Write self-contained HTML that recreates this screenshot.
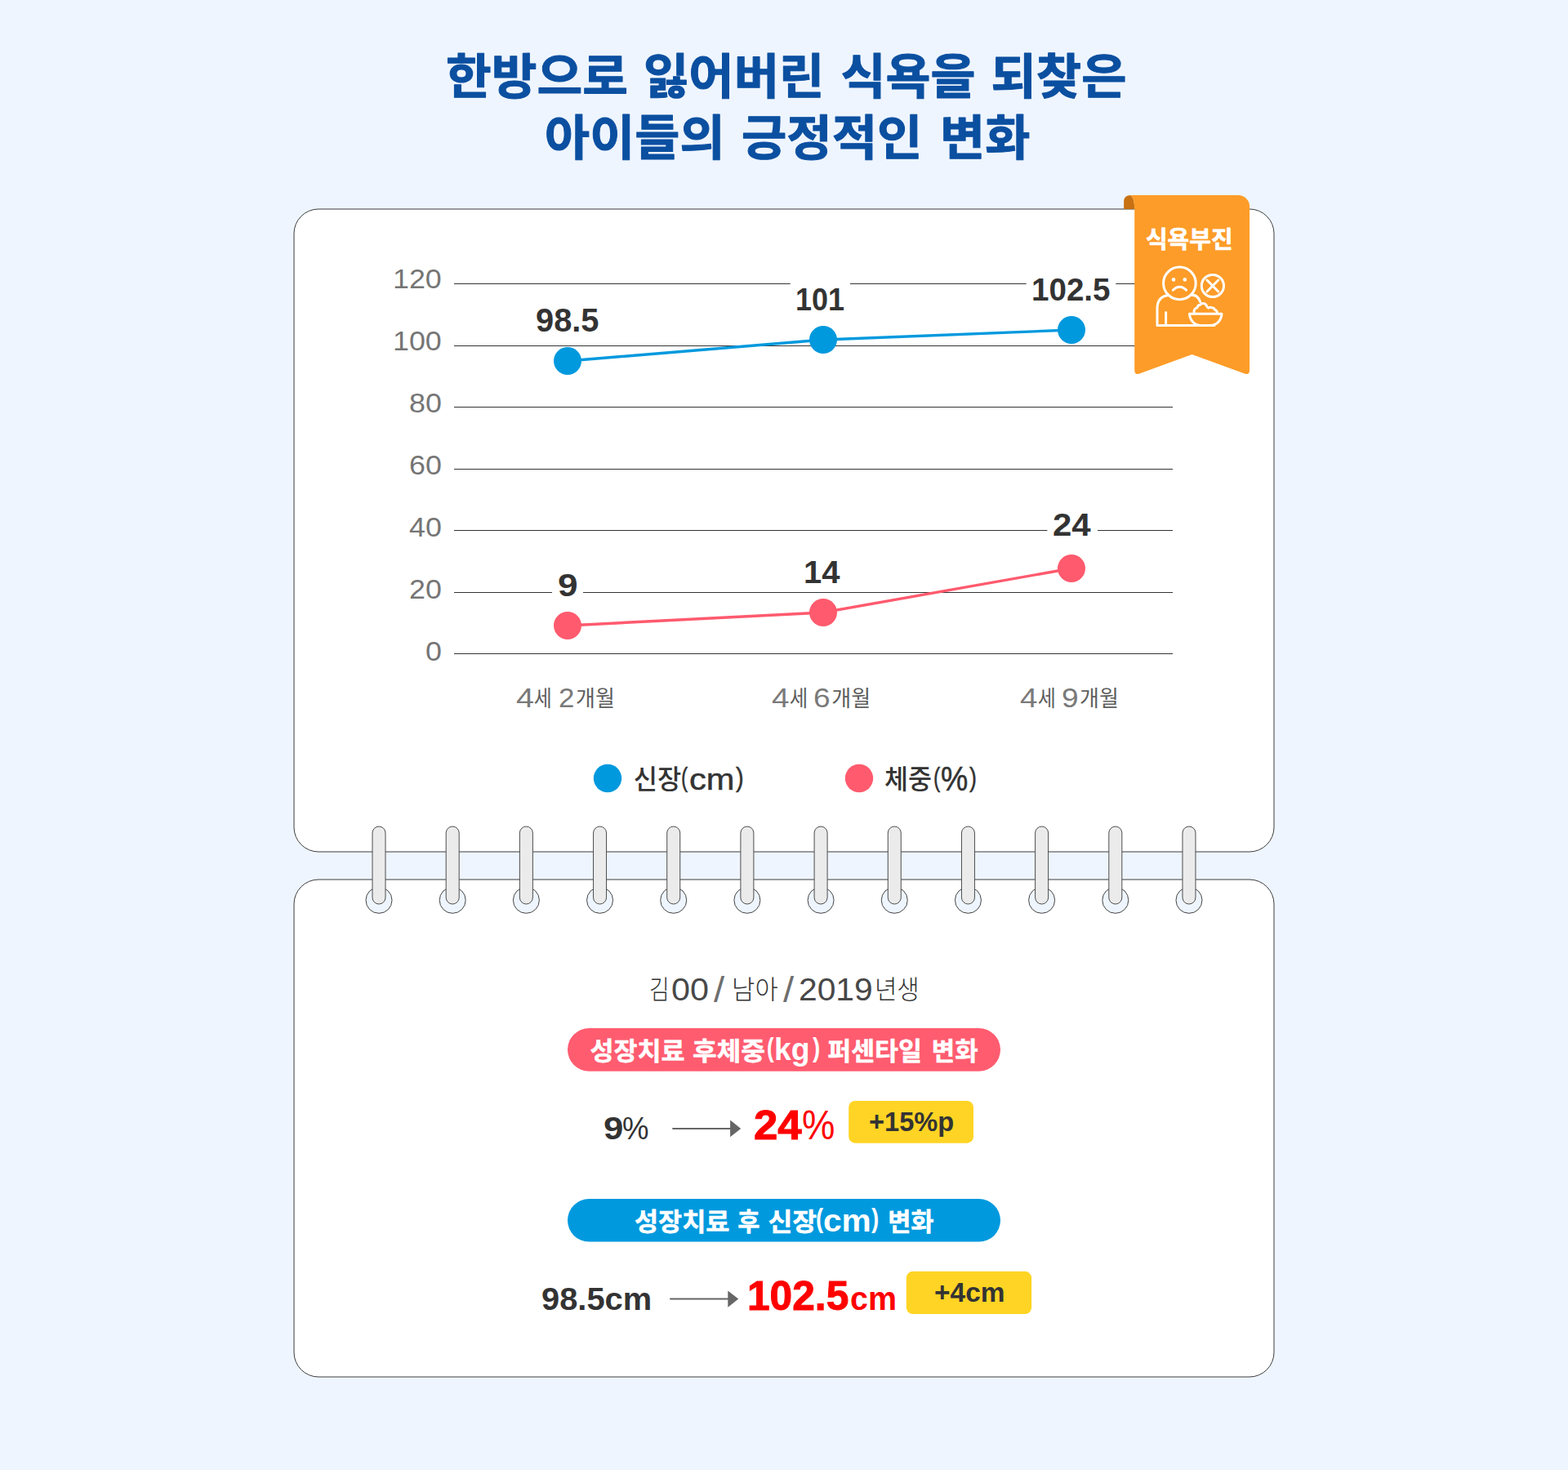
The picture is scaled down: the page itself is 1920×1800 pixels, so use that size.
<!DOCTYPE html>
<html lang="ko"><head><meta charset="utf-8"><title>한방으로 잃어버린 식욕을 되찾은 아이들의 긍정적인 변화</title>
<style>html,body{margin:0;padding:0}
body{width:1920px;height:1800px;background:#eef5ff;position:relative;overflow:hidden;font-family:"Liberation Sans",sans-serif}
svg.l{position:absolute;left:0;top:0}
svg.l text{font-family:"Liberation Sans","Noto Sans CJK KR",sans-serif}
.t{position:absolute;white-space:nowrap;transform-origin:0 0;font-kerning:none;letter-spacing:0;display:block}</style></head>
<body>
<svg class="l" width="1920" height="1800" viewBox="0 0 1920 1800">
<rect x="360" y="256" width="1200" height="787" rx="30" fill="#fff" stroke="#3c3c3c" stroke-width="1"/>
<rect x="360" y="1077" width="1200" height="609" rx="30" fill="#fff" stroke="#3c3c3c" stroke-width="1"/>
<rect x="556" y="347" width="880" height="1" fill="#333"/>
<rect x="556" y="423" width="880" height="1" fill="#333"/>
<rect x="556" y="498" width="880" height="1" fill="#333"/>
<rect x="556" y="574" width="880" height="1" fill="#333"/>
<rect x="556" y="649" width="880" height="1" fill="#333"/>
<rect x="556" y="725" width="880" height="1" fill="#333"/>
<rect x="556" y="800" width="880" height="1" fill="#333"/>
<rect x="649.0" y="369.1" width="91.6" height="46.2" fill="#fff"/>
<rect x="967.7" y="343.3" width="73.3" height="45.7" fill="#fff"/>
<rect x="1256.7" y="331.3" width="109.6" height="46.0" fill="#fff"/>
<rect x="676.0" y="693.3" width="38.0" height="46.0" fill="#fff"/>
<rect x="978.7" y="677.7" width="58.3" height="45.3" fill="#fff"/>
<rect x="1282.4" y="619.3" width="61.6" height="45.7" fill="#fff"/>
<polyline points="695,442 1008,416 1312,404" fill="none" stroke="#0099de" stroke-width="3.4"/>
<polyline points="695,766 1008,750 1312,696" fill="none" stroke="#ff5a6e" stroke-width="3.4"/>
<circle cx="695" cy="442" r="17" fill="#0099de"/>
<circle cx="1008" cy="416" r="17" fill="#0099de"/>
<circle cx="1312" cy="404" r="17" fill="#0099de"/>
<circle cx="695" cy="766" r="17" fill="#ff5a6e"/>
<circle cx="1008" cy="750" r="17" fill="#ff5a6e"/>
<circle cx="1312" cy="696" r="17" fill="#ff5a6e"/>
<circle cx="744" cy="953" r="17.2" fill="#0099de"/>
<circle cx="1052" cy="953" r="17.2" fill="#ff5a6e"/>
<path d="M1376.1,256 V247 Q1376.1,239.6 1383.8,239 Q1389.2,241 1389.2,256 Z" fill="#c77112"/>
<path d="M1389.2,256 Q1389.2,241 1383.8,239 H1516 A14,14 0 0 1 1530.1,253 V453.3 Q1530.1,459.6 1524,457.4 L1459.6,434 L1395.3,457.4 Q1389.2,459.6 1389.2,453.3 Z" fill="#fd9c28"/>
<g fill="none" stroke="#fff" stroke-width="3" stroke-linecap="round" stroke-linejoin="round"><circle cx="1444.4" cy="346.9" r="19.8"/><circle cx="1484.9" cy="350" r="13.6"/><path d="M1478,343 L1491.8,357 M1491.8,343 L1478,357"/><path d="M1436.3,355.2 Q1444.4,347.3 1452.6,355.2"/><path d="M1430.2,361.6 C1421,363 1417,369 1417,378 V398.6 H1487 "/><path d="M1458.8,361.6 C1464,360.5 1467.5,364 1469.6,369.5"/><path d="M1427.6,382.5 V398.6"/><path d="M1456.5,384.3 H1496 C1495.5,392 1490,398.6 1482,398.6 H1470.5 C1462.5,398.6 1457,392 1456.5,384.3 Z"/><path d="M1462.2,383 C1461.6,380.5 1462.6,377.6 1465.8,376.9 C1466.3,374.6 1468,373.2 1469.8,373.2 C1470.5,371.6 1472.2,371.2 1473.8,371.5 C1476,372 1477.3,373.5 1477.6,375 C1478.3,376 1479,376.9 1479.8,377.2 C1481,376.2 1482.6,376.2 1483.8,376.8 C1485.6,376.8 1487,378 1487.4,379.2 C1489,379.8 1490.3,381.2 1490.5,383"/></g>
<circle cx="1437" cy="342.4" r="2.3" fill="#fff"/><circle cx="1450.8" cy="342.4" r="2.3" fill="#fff"/>
<circle cx="464.00" cy="1102.3" r="16" fill="#eef5ff" stroke="#444" stroke-width="1"/>
<circle cx="554.18" cy="1102.3" r="16" fill="#eef5ff" stroke="#444" stroke-width="1"/>
<circle cx="644.36" cy="1102.3" r="16" fill="#eef5ff" stroke="#444" stroke-width="1"/>
<circle cx="734.54" cy="1102.3" r="16" fill="#eef5ff" stroke="#444" stroke-width="1"/>
<circle cx="824.72" cy="1102.3" r="16" fill="#eef5ff" stroke="#444" stroke-width="1"/>
<circle cx="914.90" cy="1102.3" r="16" fill="#eef5ff" stroke="#444" stroke-width="1"/>
<circle cx="1005.08" cy="1102.3" r="16" fill="#eef5ff" stroke="#444" stroke-width="1"/>
<circle cx="1095.26" cy="1102.3" r="16" fill="#eef5ff" stroke="#444" stroke-width="1"/>
<circle cx="1185.44" cy="1102.3" r="16" fill="#eef5ff" stroke="#444" stroke-width="1"/>
<circle cx="1275.62" cy="1102.3" r="16" fill="#eef5ff" stroke="#444" stroke-width="1"/>
<circle cx="1365.80" cy="1102.3" r="16" fill="#eef5ff" stroke="#444" stroke-width="1"/>
<circle cx="1455.98" cy="1102.3" r="16" fill="#eef5ff" stroke="#444" stroke-width="1"/>
<rect x="456.00" y="1012" width="16" height="95" rx="8" fill="#ebebeb" stroke="#4d4d4d" stroke-width="1"/>
<rect x="546.18" y="1012" width="16" height="95" rx="8" fill="#ebebeb" stroke="#4d4d4d" stroke-width="1"/>
<rect x="636.36" y="1012" width="16" height="95" rx="8" fill="#ebebeb" stroke="#4d4d4d" stroke-width="1"/>
<rect x="726.54" y="1012" width="16" height="95" rx="8" fill="#ebebeb" stroke="#4d4d4d" stroke-width="1"/>
<rect x="816.72" y="1012" width="16" height="95" rx="8" fill="#ebebeb" stroke="#4d4d4d" stroke-width="1"/>
<rect x="906.90" y="1012" width="16" height="95" rx="8" fill="#ebebeb" stroke="#4d4d4d" stroke-width="1"/>
<rect x="997.08" y="1012" width="16" height="95" rx="8" fill="#ebebeb" stroke="#4d4d4d" stroke-width="1"/>
<rect x="1087.26" y="1012" width="16" height="95" rx="8" fill="#ebebeb" stroke="#4d4d4d" stroke-width="1"/>
<rect x="1177.44" y="1012" width="16" height="95" rx="8" fill="#ebebeb" stroke="#4d4d4d" stroke-width="1"/>
<rect x="1267.62" y="1012" width="16" height="95" rx="8" fill="#ebebeb" stroke="#4d4d4d" stroke-width="1"/>
<rect x="1357.80" y="1012" width="16" height="95" rx="8" fill="#ebebeb" stroke="#4d4d4d" stroke-width="1"/>
<rect x="1447.98" y="1012" width="16" height="95" rx="8" fill="#ebebeb" stroke="#4d4d4d" stroke-width="1"/>
<rect x="695" y="1259" width="530" height="52.7" rx="26.35" fill="#ff5c70"/>
<rect x="695" y="1468" width="530" height="52.6" rx="26.3" fill="#0099de"/>
<rect x="1039.2" y="1348" width="152.8" height="51.7" rx="8" fill="#ffd424"/>
<rect x="1109.8" y="1556.8" width="153.3" height="52.3" rx="8" fill="#ffd424"/>
<path d="M823.3,1381 H895 V1383 H823.3 Z M894.1,1371.6 L907.2,1382 L894.1,1392.2 Z" fill="#666"/>
<path d="M820.2,1589.6 H892 V1591.6 H820.2 Z M891.3,1580.4 L904.2,1590.6 L891.3,1600.8 Z" fill="#666"/>
</svg>
<svg class="l" width="1920" height="1800" viewBox="0 0 1920 1800">
<g fill="#5e5e5e" font-size="27">
<text x="653.8" y="864.5" textLength="22" lengthAdjust="spacingAndGlyphs">세</text>
<text x="705" y="864.5" textLength="47.9" lengthAdjust="spacingAndGlyphs">개월</text>
</g>
<g fill="#5e5e5e" font-size="27">
<text x="966.7" y="864.5" textLength="22.5" lengthAdjust="spacingAndGlyphs">세</text>
<text x="1018.3" y="864.5" textLength="48" lengthAdjust="spacingAndGlyphs">개월</text>
</g>
<g fill="#5e5e5e" font-size="27">
<text x="1270.8" y="864.5" textLength="22.1" lengthAdjust="spacingAndGlyphs">세</text>
<text x="1322.1" y="864.5" textLength="47.9" lengthAdjust="spacingAndGlyphs">개월</text>
</g>
<g fill="#333" font-size="32.5" font-weight="500">
<text x="775.7" y="966" textLength="58.5" lengthAdjust="spacingAndGlyphs">신장</text>
</g>
<g fill="#333" font-size="32.5" font-weight="500">
<text x="1083" y="966" textLength="58" lengthAdjust="spacingAndGlyphs">체중</text>
</g>
<g fill="#fff" stroke="#fff" stroke-width="0.7" stroke-linejoin="round" font-size="29" font-weight="700">
<text x="1402.9" y="304.3" textLength="106.7" lengthAdjust="spacingAndGlyphs">식욕부진</text>
</g>
<g fill="#333" font-size="32" font-weight="300">
<text x="795.1" y="1223.3" textLength="24.6" lengthAdjust="spacingAndGlyphs">김</text>
<text x="896.1" y="1223.3" textLength="56.7" lengthAdjust="spacingAndGlyphs">남아</text>
<text x="1070.9" y="1223.3" textLength="54.9" lengthAdjust="spacingAndGlyphs">년생</text>
</g>
<g fill="#fff" stroke="#fff" stroke-width="0.5" stroke-linejoin="round" font-size="31" font-weight="700">
<text x="722.5" y="1297.5" textLength="116.1" lengthAdjust="spacingAndGlyphs">성장치료</text>
<text x="847.9" y="1297.5" textLength="89.1" lengthAdjust="spacingAndGlyphs">후체중</text>
<text x="1013.2" y="1297.5" textLength="115.8" lengthAdjust="spacingAndGlyphs">퍼센타일</text>
<text x="1140.8" y="1297.5" textLength="56.7" lengthAdjust="spacingAndGlyphs">변화</text>
</g>
<g fill="#fff" stroke="#fff" stroke-width="0.5" stroke-linejoin="round" font-size="31" font-weight="700">
<text x="777" y="1506.7" textLength="116.4" lengthAdjust="spacingAndGlyphs">성장치료</text>
<text x="903.2" y="1506.7" textLength="27.2" lengthAdjust="spacingAndGlyphs">후</text>
<text x="940.5" y="1506.7" textLength="59.7" lengthAdjust="spacingAndGlyphs">신장</text>
<text x="1087.2" y="1506.7" textLength="56.3" lengthAdjust="spacingAndGlyphs">변화</text>
</g>
<g fill="#0b4fa0" stroke="#0b4fa0" stroke-width="1.0" stroke-linejoin="round" font-size="59" font-weight="700">
<text x="546.1" y="115" textLength="222.9" lengthAdjust="spacingAndGlyphs">한방으로</text>
<text x="788" y="115" textLength="221.5" lengthAdjust="spacingAndGlyphs">잃어버린</text>
<text x="1029.5" y="115" textLength="165" lengthAdjust="spacingAndGlyphs">식욕을</text>
<text x="1213.5" y="115" textLength="166" lengthAdjust="spacingAndGlyphs">되찾은</text>
</g>
<g fill="#0b4fa0" stroke="#0b4fa0" stroke-width="1.0" stroke-linejoin="round" font-size="59" font-weight="700">
<text x="667.1" y="190" textLength="220.4" lengthAdjust="spacingAndGlyphs">아이들의</text>
<text x="908" y="190" textLength="221.5" lengthAdjust="spacingAndGlyphs">긍정적인</text>
<text x="1151.1" y="190" textLength="110.4" lengthAdjust="spacingAndGlyphs">변화</text>
</g>
</svg>
<span class="t" style="left:480.97px;top:322.75px;font-size:33.50px;line-height:37px;color:#757575;transform:scaleX(1.0686);">120</span>
<span class="t" style="left:480.97px;top:398.75px;font-size:33.50px;line-height:37px;color:#757575;transform:scaleX(1.0686);">100</span>
<span class="t" style="left:500.88px;top:474.75px;font-size:33.50px;line-height:37px;color:#757575;transform:scaleX(1.0686);">80</span>
<span class="t" style="left:500.88px;top:550.75px;font-size:33.50px;line-height:37px;color:#757575;transform:scaleX(1.0686);">60</span>
<span class="t" style="left:500.88px;top:626.75px;font-size:33.50px;line-height:37px;color:#757575;transform:scaleX(1.0686);">40</span>
<span class="t" style="left:500.88px;top:702.75px;font-size:33.50px;line-height:37px;color:#757575;transform:scaleX(1.0686);">20</span>
<span class="t" style="left:520.79px;top:778.75px;font-size:33.50px;line-height:37px;color:#757575;transform:scaleX(1.0686);">0</span>
<span class="t" style="left:655.92px;top:370.00px;font-size:39.83px;line-height:44px;color:#333;transform:scaleX(0.9996);font-weight:700;">98.5</span>
<span class="t" style="left:973.74px;top:344.70px;font-size:39.12px;line-height:43px;color:#333;transform:scaleX(0.9186);font-weight:700;">101</span>
<span class="t" style="left:1262.57px;top:332.00px;font-size:39.55px;line-height:44px;color:#333;transform:scaleX(0.9751);font-weight:700;">102.5</span>
<span class="t" style="left:682.77px;top:694.00px;font-size:39.55px;line-height:44px;color:#333;transform:scaleX(1.1171);font-weight:700;">9</span>
<span class="t" style="left:984.48px;top:678.70px;font-size:38.56px;line-height:43px;color:#333;transform:scaleX(1.0359);font-weight:700;">14</span>
<span class="t" style="left:1289.25px;top:620.70px;font-size:39.12px;line-height:43px;color:#333;transform:scaleX(1.0727);font-weight:700;">24</span>
<span class="t" style="left:631.99px;top:836.50px;font-size:32.30px;line-height:36px;color:#7a7a7a;transform:scaleX(1.2288);">4</span>
<span class="t" style="left:683.64px;top:836.50px;font-size:32.30px;line-height:36px;color:#7a7a7a;transform:scaleX(1.0805);">2</span>
<span class="t" style="left:945.41px;top:836.50px;font-size:32.30px;line-height:36px;color:#7a7a7a;transform:scaleX(1.1981);">4</span>
<span class="t" style="left:996.42px;top:836.50px;font-size:32.30px;line-height:36px;color:#7a7a7a;transform:scaleX(1.1473);">6</span>
<span class="t" style="left:1249.32px;top:836.50px;font-size:32.30px;line-height:36px;color:#7a7a7a;transform:scaleX(1.1919);">4</span>
<span class="t" style="left:1300.36px;top:836.50px;font-size:32.30px;line-height:36px;color:#7a7a7a;transform:scaleX(1.1461);">9</span>
<span class="t" style="left:834.38px;top:931.73px;font-size:34.13px;line-height:38px;color:#333;transform:scaleX(0.7182);-webkit-text-stroke:0.5px #333;">(</span>
<span class="t" style="left:843.93px;top:932.84px;font-size:37.24px;line-height:42px;color:#333;transform:scaleX(1.1162);-webkit-text-stroke:0.5px #333;">cm</span>
<span class="t" style="left:900.73px;top:931.73px;font-size:34.13px;line-height:38px;color:#333;transform:scaleX(0.8508);-webkit-text-stroke:0.5px #333;">)</span>
<span class="t" style="left:1142.66px;top:931.73px;font-size:34.13px;line-height:38px;color:#333;transform:scaleX(0.7293);-webkit-text-stroke:0.5px #333;">(</span>
<span class="t" style="left:1151.67px;top:929.85px;font-size:42.16px;line-height:47px;color:#333;transform:scaleX(0.8874);-webkit-text-stroke:0.5px #333;">&#37;</span>
<span class="t" style="left:1186.74px;top:931.73px;font-size:34.13px;line-height:38px;color:#333;transform:scaleX(0.7845);-webkit-text-stroke:0.5px #333;">)</span>
<span class="t" style="left:822.29px;top:1189.50px;font-size:38.30px;line-height:43px;color:#484848;transform:scaleX(1.0780);">00</span>
<span class="t" style="left:874.10px;top:1187.20px;font-size:44.70px;line-height:49px;color:#6e6e6e;transform:scaleX(1.0548);">/</span>
<span class="t" style="left:959.40px;top:1187.20px;font-size:44.70px;line-height:49px;color:#6e6e6e;transform:scaleX(1.0548);">/</span>
<span class="t" style="left:978.45px;top:1189.50px;font-size:38.30px;line-height:43px;color:#484848;transform:scaleX(1.0643);">2019</span>
<span class="t" style="left:938.51px;top:1264.20px;font-size:33.26px;line-height:37px;color:#fff;transform:scaleX(0.7777);font-weight:700;">(</span>
<span class="t" style="left:947.89px;top:1263.11px;font-size:38.65px;line-height:43px;color:#fff;transform:scaleX(0.9668);font-weight:700;">kg</span>
<span class="t" style="left:994.97px;top:1264.20px;font-size:33.26px;line-height:37px;color:#fff;transform:scaleX(0.8310);font-weight:700;">)</span>
<span class="t" style="left:999.22px;top:1472.97px;font-size:32.94px;line-height:37px;color:#fff;transform:scaleX(0.8391);font-weight:700;">(</span>
<span class="t" style="left:1008.11px;top:1473.12px;font-size:38.48px;line-height:43px;color:#fff;transform:scaleX(1.0575);font-weight:700;">cm</span>
<span class="t" style="left:1066.77px;top:1472.97px;font-size:32.94px;line-height:37px;color:#fff;transform:scaleX(0.8391);font-weight:700;">)</span>
<span class="t" style="left:738.68px;top:1360.10px;font-size:39.10px;line-height:43px;color:#333;transform:scaleX(1.1194);font-weight:700;">9</span>
<span class="t" style="left:761.50px;top:1360.10px;font-size:39.10px;line-height:43px;color:#333;transform:scaleX(0.9350);">&#37;</span>
<span class="t" style="left:923.37px;top:1349.10px;font-size:50.40px;line-height:57px;color:#ff0000;transform:scaleX(1.0473);font-weight:700;-webkit-text-stroke:1px #ff0000;">24</span>
<span class="t" style="left:982.48px;top:1349.10px;font-size:50.40px;line-height:57px;color:#ff0000;transform:scaleX(0.9000);">&#37;</span>
<span class="t" style="left:1064.13px;top:1354.80px;font-size:33.00px;line-height:37px;color:#333;transform:scaleX(0.9879);font-weight:700;">+15&#37;p</span>
<span class="t" style="left:663.12px;top:1567.90px;font-size:39.30px;line-height:44px;color:#333;transform:scaleX(1.0140);font-weight:700;">98.5cm</span>
<span class="t" style="left:915.47px;top:1557.50px;font-size:50.40px;line-height:57px;color:#ff0000;transform:scaleX(0.9856);font-weight:700;-webkit-text-stroke:1px #ff0000;">102.5</span>
<span class="t" style="left:1041.26px;top:1567.50px;font-size:40.00px;line-height:44px;color:#ff0000;transform:scaleX(0.9857);font-weight:700;">cm</span>
<span class="t" style="left:1143.60px;top:1563.80px;font-size:32.90px;line-height:37px;color:#333;transform:scaleX(1.0167);font-weight:700;">+4cm</span>
</body></html>
